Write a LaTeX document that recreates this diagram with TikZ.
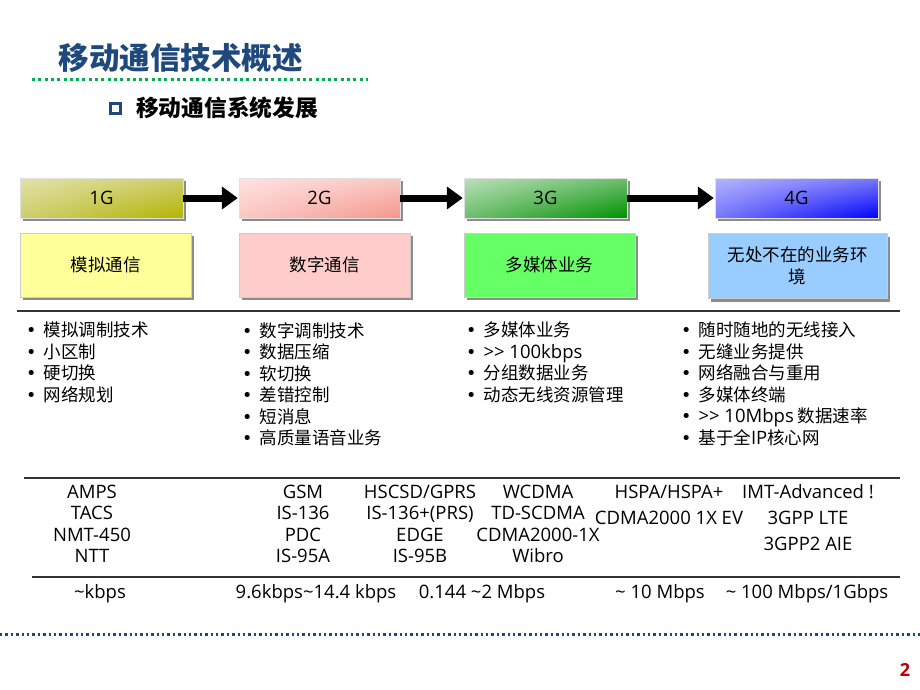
\documentclass[tikz,border=0pt]{standalone}
\usepackage{fontspec}
\setmainfont{Noto Sans CJK SC}
\newfontfamily\lat{Open Sans}
\newfontfamily\djv{DejaVu Sans}
\newcommand{\bul}{{\djv•}\hspace{7pt}}
\newcommand{\latb}{\lat\fontsize{18.5}{21.5}\selectfont}
\usetikzlibrary{arrows.meta,shadows,shadings}
\definecolor{titleblue}{RGB}{31,73,125}
\definecolor{dotgreen}{RGB}{0,176,80}
\definecolor{pagered}{RGB}{192,0,0}
\definecolor{yfill}{RGB}{255,255,153}
\definecolor{pfill}{RGB}{255,204,204}
\definecolor{gfill}{RGB}{102,255,102}
\definecolor{bfill}{RGB}{153,204,255}
\definecolor{oa}{RGB}{226,226,170}\definecolor{ob}{RGB}{206,206,110}\definecolor{oc}{RGB}{180,180,0}
\definecolor{pa}{RGB}{255,226,226}\definecolor{pb}{RGB}{250,200,195}\definecolor{pc}{RGB}{244,150,140}
\definecolor{ga}{RGB}{186,224,186}\definecolor{gb}{RGB}{110,190,110}\definecolor{gc}{RGB}{0,145,0}
\definecolor{ba}{RGB}{180,180,255}\definecolor{bb}{RGB}{120,120,250}\definecolor{bc}{RGB}{0,0,255}
\begin{document}
\begin{tikzpicture}[x=1pt,y=-1pt,
  font=\fontsize{17.5}{21.5}\selectfont,
  hbox/.style={minimum width=163, minimum height=40, inner sep=0, draw=black!12,
    drop shadow={shadow xshift=3pt, shadow yshift=-3pt, opacity=0.45, fill=black}},
  fbox/.style={minimum width=171, minimum height=64, inner sep=0, draw=black!20,
    drop shadow={shadow xshift=3pt, shadow yshift=-3pt, opacity=0.45, fill=black}},
  bigarrow/.style={line width=7pt, -{Triangle[length=16pt,width=22pt]}, shorten >=1pt},
  sep/.style={line width=1.4pt, black!80},
  blist/.style={anchor=north west, inner sep=0, align=left},
  tech/.style={align=center, inner sep=0, font=\lat\fontsize{18.5}{21.5}\selectfont},
  tech2/.style={align=center, inner sep=0, font=\lat\fontsize{18.5}{26}\selectfont},
  speed/.style={inner sep=0, font=\lat\fontsize{18.5}{21.5}\selectfont}
]
\useasboundingbox (0,0) rectangle (920,690);
% title
\node[text=titleblue, font=\bfseries\fontsize{30.5}{34}\selectfont, anchor=west] (title) at (55,58) {移动通信技术概述};
\coordinate (gl1) at (32,80);
\coordinate (gl2) at (368,80);
\draw[dotgreen, line width=3pt, dash pattern=on 3pt off 3.3pt] (gl1) -- (gl2);
\node[draw=titleblue, line width=2.3pt, minimum size=10pt, inner sep=0] (sq) at (115.5,108.5) {};
\node[font=\bfseries\fontsize{22.7}{26}\selectfont, anchor=west, inner sep=0] (subtitle) at (136,108) {移动通信系统发展};

% header boxes
\node[hbox, upper left=oa, upper right=ob, lower left=ob, lower right=oc] (g1) at (101.5,198) {\latb 1G};
\node[hbox, minimum width=161, upper left=pa, upper right=pb, lower left=pb, lower right=pc] (g2) at (319.5,198) {\latb 2G};
\node[hbox, upper left=ga, upper right=gb, lower left=gb, lower right=gc] (g3) at (545.5,198) {\latb 3G};
\node[hbox, upper left=ba, upper right=bb, lower left=bb, lower right=bc] (g4) at (796.5,198) {\latb 4G};
\draw[bigarrow] (g1.east) -- (g2.west);
\draw[bigarrow] (g2.east) -- (g3.west);
\draw[bigarrow] (g3.east) -- (g4.west);

% feature boxes
\node[fbox, fill=yfill] (f1) at (105.5,265) {模拟通信};
\node[fbox, fill=pfill] (f2) at (324.5,265) {数字通信};
\node[fbox, fill=gfill] (f3) at (549.5,265) {多媒体业务};
\node[fbox, fill=bfill, minimum width=179, minimum height=65, align=center] (f4) at (797.5,266) {无处不在的业务环\\境};

% separators
\coordinate (s1a) at (17,311); \coordinate (s1b) at (900,311);
\coordinate (s2a) at (24,478); \coordinate (s2b) at (900,478);
\coordinate (s3a) at (32,577); \coordinate (s3b) at (900,577);
\draw[sep] (s1a) -- (s1b);
\draw[sep] (s2a) -- (s2b);
\draw[sep] (s3a) -- (s3b);

% bullet lists
\node[blist] (l1) at (26,322) {\bul 模拟调制技术\\\bul 小区制\\\bul 硬切换\\\bul 网络规划};
\node[blist] (l2) at (242,322) {\bul 数字调制技术\\\bul 数据压缩\\\bul 软切换\\\bul 差错控制\\\bul 短消息\\\bul 高质量语音业务};
\node[blist] (l3) at (466,322) {\bul 多媒体业务\\\bul{\latb >> 100kbps}\\\bul 分组数据业务\\\bul 动态无线资源管理};
\node[blist] (l4) at (681,322) {\bul 随时随地的无线接入\\\bul 无缝业务提供\\\bul 网络融合与重用\\\bul 多媒体终端\\\bul{\latb >> 10Mbps} 数据速率\\\bul 基于全{\latb IP}核心网};

% technologies
\node[tech] (t1) at (92,524) {AMPS\\TACS\\NMT-450\\NTT};
\node[tech] (t2) at (303,524) {GSM\\IS-136\\PDC\\IS-95A};
\node[tech] (t3) at (420,524) {HSCSD/GPRS\\IS-136+(PRS)\\EDGE\\IS-95B};
\node[tech] (t4) at (538,524) {WCDMA\\TD-SCDMA\\CDMA2000-1X\\Wibro};
\node[tech2] (t5) at (669,505) {HSPA/HSPA+\\CDMA2000 1X EV};
\node[tech2] (t6) at (808,518) {IMT-Advanced !\\3GPP LTE\\3GPP2 AIE};

% speeds
\node[speed] (v1) at (100,594) {\textasciitilde kbps};
\node[speed] (v2) at (316,594) {9.6kbps\textasciitilde 14.4 kbps};
\node[speed] (v3) at (482,594) {0.144 \textasciitilde 2 Mbps};
\node[speed] (v4) at (660,594) {\textasciitilde{} 10 Mbps};
\node[speed] (v5) at (807,594) {\textasciitilde{} 100 Mbps/1Gbps};

% footer
\coordinate (b1) at (0,634); \coordinate (b2) at (920,634);
\draw[titleblue, line width=3pt, dash pattern=on 2.4pt off 3pt] (b1) -- (b2);
\node[text=pagered, font=\lat\bfseries\fontsize{18}{20}\selectfont] (pg) at (905,670) {2};
\end{tikzpicture}
\end{document}
